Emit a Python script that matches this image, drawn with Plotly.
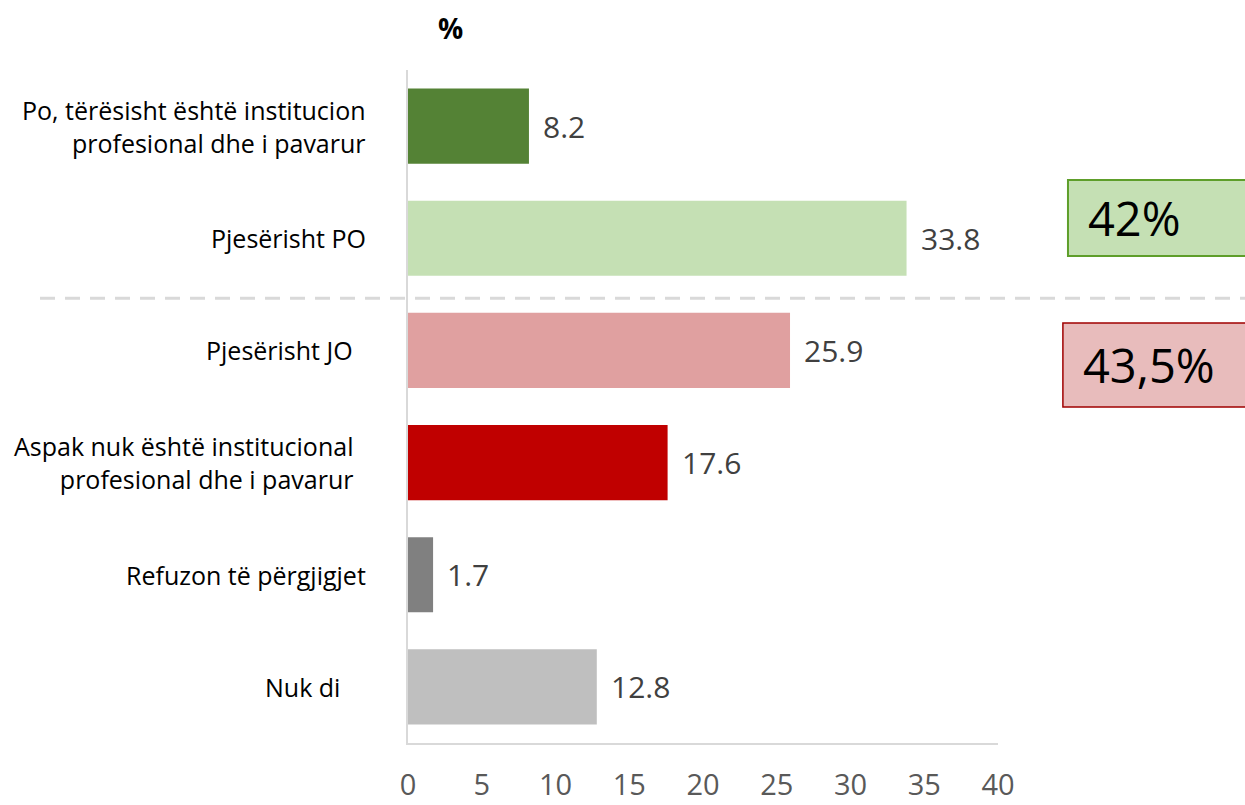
import plotly.graph_objects as go

# Survey answers, top to bottom
categories = [
    "Po, tërësisht është institucion<br>profesional dhe i pavarur",
    "Pjesërisht PO",
    "Pjesërisht JO\u00a0\u00a0",
    "Aspak nuk është institucional\u00a0\u00a0<br>profesional dhe i pavarur\u00a0\u00a0",
    "Refuzon të përgjigjet",
    "Nuk di\u00a0\u00a0\u00a0\u00a0",
]
values = [8.2, 33.8, 25.9, 17.6, 1.7, 12.8]
bar_colors = ["#548235", "#c5e0b4", "#e0a0a0", "#c00000", "#808080", "#bfbfbf"]
x_ticks = [0, 5, 10, 15, 20, 25, 30, 35, 40]

# Grouped totals shown in the side boxes
total_yes = "42%"
total_no = "43,5%"

FONT = "'Open Sans', 'Noto Sans', sans-serif"

fig = go.Figure(
    go.Bar(
        x=values,
        y=list(range(len(values))),
        orientation="h",
        marker=dict(color=bar_colors, line=dict(width=0)),
        width=0.67,
        hoverinfo="skip",
    )
)

# value labels next to each bar
for i, v in enumerate(values):
    fig.add_annotation(
        x=v, y=i, xref="x", yref="y", text=f"{v}", showarrow=False,
        xanchor="left", yanchor="middle", xshift=12,
        font=dict(family=FONT, size=30, color="#404040"),
    )

# category labels left of the axis
for i, lab in enumerate(categories):
    fig.add_annotation(
        x=0, y=i, xref="paper", yref="y", text=lab, showarrow=False,
        xanchor="right", yanchor="middle", align="right", xshift=-40,
        font=dict(family=FONT, size=25, color="#000000"),
    )

# divider between positive and negative answers
fig.add_shape(
    type="line", xref="paper", yref="paper",
    x0=-0.6237, x1=1.43, y0=0.661, y1=0.661,
    line=dict(color="#d9d9d9", width=3, dash="15px,10px"),
)

# totals boxes
fig.add_shape(
    type="rect", xref="paper", yref="paper",
    x0=1.1186, x1=1.45, y0=0.7236, y1=0.8366,
    fillcolor="#c5e0b4", line=dict(color="#5e9e2a", width=2),
    layer="above",
)
fig.add_annotation(
    x=1.1186, y=0.78, xref="paper", yref="paper", text=total_yes, showarrow=False,
    xanchor="left", yanchor="middle", xshift=18,
    font=dict(family=FONT, size=47, color="#000000"),
)
fig.add_shape(
    type="rect", xref="paper", yref="paper",
    x0=1.110, x1=1.45, y0=0.4993, y1=0.624,
    fillcolor="#e8bcbc", line=dict(color="#a00000", width=1.5),
    layer="above",
)
fig.add_annotation(
    x=1.110, y=0.5617, xref="paper", yref="paper", text=total_no, showarrow=False,
    xanchor="left", yanchor="middle", xshift=18,
    font=dict(family=FONT, size=47, color="#000000"),
)

# unit label above the chart
fig.add_annotation(
    x=0.0712, y=1.0, xref="paper", yref="paper", text="<b>%</b>", showarrow=False,
    xanchor="center", yanchor="middle", yshift=42,
    font=dict(family=FONT, size=28, color="#000000"),
)

fig.update_layout(
    width=1245, height=805,
    margin=dict(l=408, r=247, t=70, b=62, autoexpand=False),
    paper_bgcolor="white", plot_bgcolor="white",
    showlegend=False,
    bargap=0.33,
    xaxis=dict(
        range=[0, 40], tickvals=x_ticks, showgrid=False, zeroline=False,
        showline=True, linecolor="#d9d9d9", linewidth=2,
        ticks="", ticklabelstandoff=15, automargin=False,
        tickfont=dict(family=FONT, size=29, color="#595959"),
        fixedrange=True,
    ),
    yaxis=dict(
        range=[5.5, -0.5], showticklabels=False, showgrid=False,
        zeroline=False, showline=True, linecolor="#d9d9d9", linewidth=2,
        ticks="", fixedrange=True, automargin=False,
    ),
)

fig.write_html("out.html")
